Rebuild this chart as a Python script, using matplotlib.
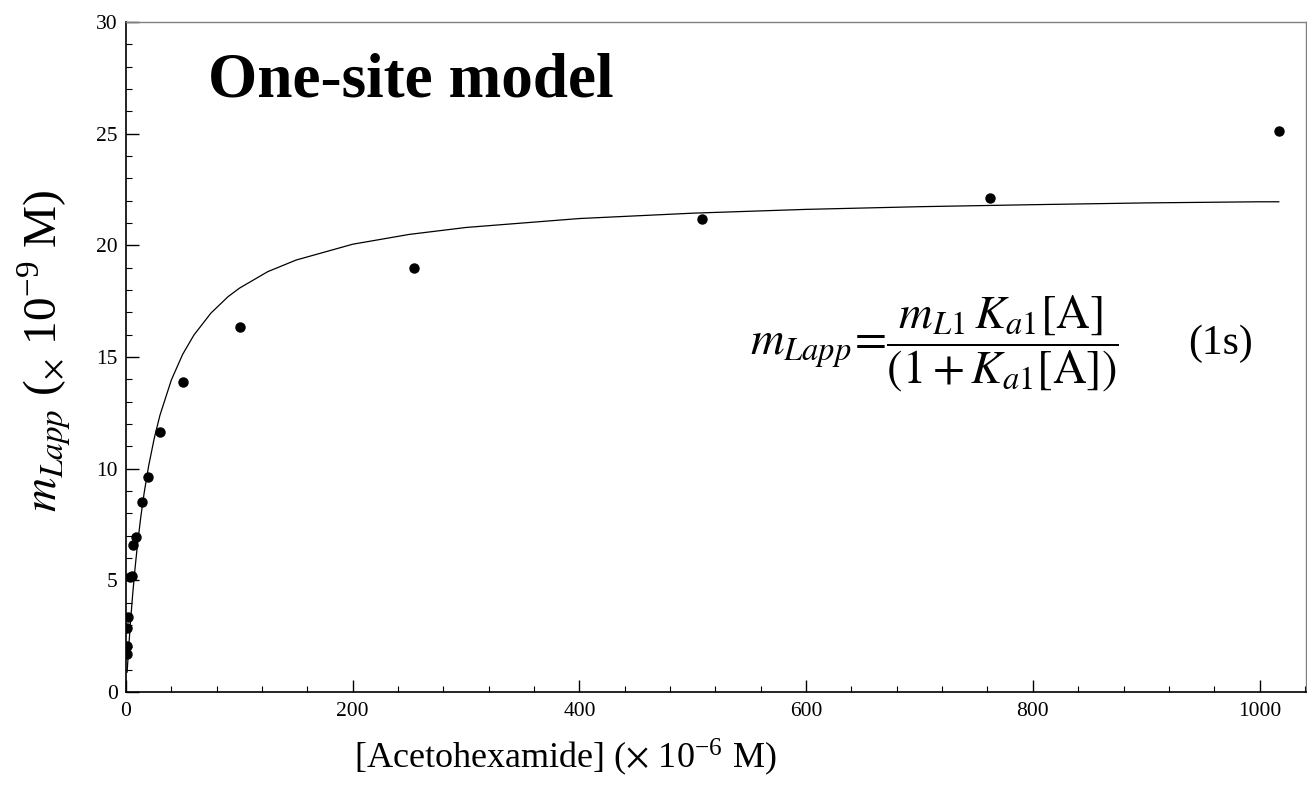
import matplotlib
matplotlib.use('Agg')
import numpy as np
import matplotlib.pyplot as plt
from matplotlib.ticker import MultipleLocator

# ---- data ----
conc = [0.6, 0.6, 0.8, 2.0, 3.5, 5.5, 6.5, 8.8, 13.8, 19.1, 30, 50, 101, 254, 508, 762, 1017]
m_app = [1.70, 2.07, 2.85, 3.34, 5.17, 5.20, 6.58, 6.93, 8.52, 9.64, 11.63, 13.9, 16.35, 19.0, 21.2, 22.1, 25.1]

# fitted one-site curve
fit_x = [1, 2, 4, 6, 8, 10, 13, 16, 20, 25, 30, 40, 50, 60, 75, 90, 100, 125, 150,
         200, 250, 300, 400, 500, 600, 700, 800, 900, 1000, 1017]
fit_y = [0.89, 1.70, 3.17, 4.44, 5.55, 6.54, 7.82, 8.91, 10.13, 11.38, 12.40, 13.97,
         15.12, 15.99, 16.97, 17.70, 18.08, 18.82, 19.34, 20.05, 20.49, 20.80, 21.20,
         21.44, 21.61, 21.73, 21.82, 21.90, 21.95, 21.95]

x_ticks = [0, 200, 400, 600, 800, 1000]
y_ticks = [0, 5, 10, 15, 20, 25, 30]

plt.rcParams['font.family'] = ['Liberation Serif', 'DejaVu Serif']
plt.rcParams['mathtext.fontset'] = 'stix'

fig = plt.figure(figsize=(13.07, 7.85), dpi=100)
ax = fig.add_axes([126 / 1307, 93 / 785, 1180 / 1307, 670 / 785])

ax.plot(fit_x, fit_y, color='black', lw=0.9)
ax.plot(conc, m_app, 'o', color='black', ms=6.5, mec='black')

ax.set_xlim(0, 1041)
ax.set_ylim(0, 30)
ax.set_xticks(x_ticks)
ax.set_yticks(y_ticks)
ax.xaxis.set_minor_locator(MultipleLocator(40))
ax.yaxis.set_minor_locator(MultipleLocator(1))
ax.tick_params(which='both', direction='in', top=False, right=False, labelsize=15.5)
ax.tick_params(which='major', length=9, width=1)
ax.tick_params(which='minor', length=4.5, width=0.8)
ax.tick_params(axis='x', pad=7)
ax.tick_params(axis='y', pad=6)

for s in ['left', 'bottom']:
    ax.spines[s].set_linewidth(1.2)
for s in ['top', 'right']:
    ax.spines[s].set_color('#808080')
    ax.spines[s].set_linewidth(1.0)

ax.set_xlabel(r'[Acetohexamide] ($\times$ 10$^{\mathregular{-6}}$ M)', fontsize=26)
ax.xaxis.set_label_coords(0.372, -0.066)
ax.set_ylabel(r'$m_{Lapp}$ ($_{\times}$ 10$^{\mathregular{-9}}$ M)', fontsize=34)
ax.yaxis.set_label_coords(-0.045, 0.51)

ax.text(0.0695, 0.889, 'One-site model', transform=ax.transAxes,
        fontsize=45.5, fontweight='bold', va='baseline', ha='left')

ax.text(0.529, 0.52,
        r'$m_{Lapp}\!=\!\dfrac{m_{L1}\,K_{a1}[\mathrm{A}]}{(1+K_{a1}[\mathrm{A}])}$',
        transform=ax.transAxes, fontsize=33.5, va='center', ha='left')
ax.text(0.9, 0.52, '(1s)', transform=ax.transAxes, fontsize=30, va='center', ha='left')

fig.savefig('out.png', dpi=100)
